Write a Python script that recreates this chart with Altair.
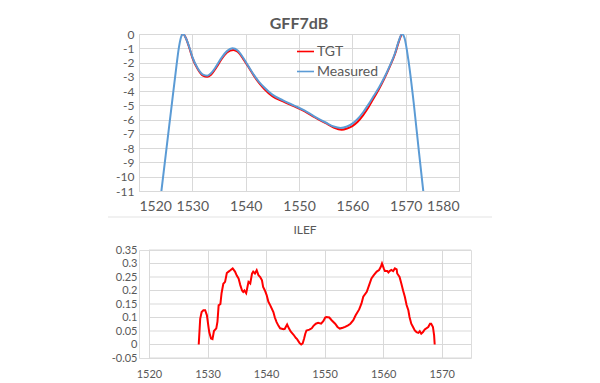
import altair as alt
import pandas as pd

# ---------------- data ----------------
wl_meas = [1524.2, 1525.0, 1526.0, 1527.0, 1527.5, 1528.0, 1528.3, 1528.8, 1529.5, 1530.0,
           1531.0, 1532.0, 1532.8, 1533.5, 1534.5, 1535.5, 1536.5, 1537.5, 1538.5, 1539.5,
           1540.5, 1541.5, 1542.5, 1543.5, 1545.0, 1547.0, 1549.0, 1551.0, 1553.0, 1555.0,
           1556.5, 1557.8, 1559.0, 1560.0, 1561.0, 1562.0, 1563.0, 1564.0, 1565.0, 1566.0,
           1567.0, 1568.0, 1568.7, 1569.3, 1569.8, 1570.5, 1571.5, 1572.5, 1573.3]
gff_meas = [-11.0, -8.5, -5.4, -2.3, -0.9, -0.1, 0.0, -0.3, -1.0, -1.6,
            -2.4, -2.85, -2.92, -2.75, -2.25, -1.65, -1.2, -1.0, -1.15, -1.65,
            -2.25, -2.85, -3.35, -3.75, -4.25, -4.65, -5.0, -5.35, -5.8, -6.2,
            -6.48, -6.58, -6.48, -6.28, -5.95, -5.5, -4.95, -4.35, -3.75, -3.05,
            -2.25, -1.35, -0.5, 0.0, -0.3, -1.8, -4.8, -8.3, -11.0]

wl_tgt = [1527.9, 1528.3, 1528.8, 1529.5, 1530.0, 1531.0, 1532.0, 1532.8, 1533.5, 1534.5,
          1535.5, 1536.5, 1537.7, 1538.5, 1539.5, 1540.5, 1541.5, 1542.5, 1543.5, 1545.0,
          1547.0, 1549.0, 1551.0, 1553.0, 1555.0, 1556.5, 1558.0, 1559.0, 1560.0, 1561.0,
          1562.0, 1563.0, 1564.0, 1565.0, 1566.0, 1567.0, 1568.0, 1568.7, 1569.2]
gff_tgt = [-0.05, 0.0, -0.3, -1.05, -1.65, -2.45, -2.92, -3.0, -2.85, -2.35,
           -1.75, -1.3, -1.12, -1.25, -1.72, -2.3, -2.9, -3.42, -3.85, -4.35,
           -4.72, -5.05, -5.4, -5.85, -6.25, -6.55, -6.7, -6.62, -6.45, -6.15,
           -5.7, -5.15, -4.5, -3.85, -3.12, -2.3, -1.4, -0.55, -0.05]

wl_ilef = [1528.5, 1528.75, 1529.0, 1529.3, 1529.6, 1529.9, 1530.2, 1530.3, 1530.6, 1530.85,
           1531.1, 1531.5, 1531.7, 1531.9, 1532.2, 1532.4, 1532.7, 1533.0, 1533.3, 1533.6,
           1533.9, 1534.3, 1534.7, 1535.0, 1535.3, 1535.6, 1535.9, 1536.1, 1536.3, 1536.6,
           1536.7, 1537.0, 1537.3, 1537.6, 1537.8, 1538.1, 1538.4, 1538.7, 1539.0, 1539.3,
           1539.5, 1539.8, 1540.1, 1540.4, 1540.7, 1541.25, 1541.5, 1541.8, 1542.1, 1542.4,
           1543.0, 1543.2, 1543.5, 1543.6, 1543.9, 1544.2, 1544.7, 1545.1, 1545.3, 1545.7,
           1546.0, 1546.25, 1546.5, 1546.7, 1546.9, 1547.4, 1547.8, 1548.1, 1548.5, 1548.9,
           1549.4, 1549.8, 1550.1, 1550.3, 1550.8, 1551.2, 1551.8, 1552.2, 1552.6, 1553.1,
           1553.5, 1554.0, 1554.4, 1554.9, 1555.3, 1555.9, 1556.3, 1556.6, 1557.2, 1557.6,
           1558.0, 1558.4, 1558.9, 1559.3, 1559.6, 1559.8, 1560.1, 1560.3, 1560.7, 1560.9,
           1561.1, 1561.4, 1561.7, 1562.0, 1562.3, 1562.4, 1562.8, 1563.1, 1563.4, 1563.7,
           1564.0, 1564.3, 1564.5, 1564.8, 1565.1, 1565.4, 1565.7, 1566.0, 1566.25, 1566.5,
           1566.8, 1567.1, 1567.7, 1568.0, 1568.2, 1568.5, 1568.7, 1568.8]
ilef = [0.0, 0.095, 0.12, 0.127, 0.127, 0.108, 0.06, 0.045, 0.022, 0.02,
        0.05, 0.06, 0.085, 0.145, 0.15, 0.19, 0.225, 0.232, 0.265, 0.27,
        0.275, 0.282, 0.27, 0.255, 0.245, 0.22, 0.2, 0.195, 0.2, 0.19,
        0.2, 0.232, 0.226, 0.263, 0.27, 0.263, 0.275, 0.257, 0.25, 0.238,
        0.213, 0.2, 0.183, 0.158, 0.146, 0.12, 0.1, 0.083, 0.07, 0.06,
        0.057, 0.058, 0.07, 0.074, 0.06, 0.048, 0.036, 0.024, 0.02, 0.006,
        0.0, 0.004, 0.022, 0.04, 0.052, 0.055, 0.06, 0.069, 0.077, 0.08,
        0.077, 0.087, 0.1, 0.102, 0.1, 0.09, 0.077, 0.065, 0.059, 0.062,
        0.065, 0.071, 0.077, 0.09, 0.108, 0.13, 0.152, 0.177, 0.195, 0.22,
        0.245, 0.257, 0.27, 0.276, 0.288, 0.3, 0.282, 0.272, 0.272, 0.267,
        0.272, 0.276, 0.272, 0.282, 0.278, 0.263, 0.25, 0.226, 0.2, 0.177,
        0.146, 0.127, 0.102, 0.077, 0.065, 0.052, 0.046, 0.043, 0.049, 0.04,
        0.046, 0.056, 0.065, 0.077, 0.077, 0.065, 0.034, 0.0]

series_names = ["TGT", "Measured"]
series_colors = ["#FF0000", "#5B9BD5"]
top_x_ticks = [1520, 1530, 1540, 1550, 1560, 1570, 1580]
top_y_ticks = [0, -1, -2, -3, -4, -5, -6, -7, -8, -9, -10, -11]
bot_x_ticks = [1520, 1530, 1540, 1550, 1560, 1570]
bot_y_ticks = [-0.05, 0, 0.05, 0.1, 0.15, 0.2, 0.25, 0.3, 0.35]
bot_x_span = [1520, 1575]

FONT = "Lato"
GRID = "#D9D9D9"
TXT = "#595959"
minus_fix = "replace(datum.label, '\u2212', '-')"

# ---------------- top chart ----------------
df_top = pd.concat([
    pd.DataFrame({"wl": wl_tgt, "v": gff_tgt, "series": "TGT"}),
    pd.DataFrame({"wl": wl_meas, "v": gff_meas, "series": "Measured"}),
])

color = alt.Color("series:N",
                  scale=alt.Scale(domain=series_names, range=series_colors),
                  legend=alt.Legend(title=None, orient="none", legendX=157, legendY=8,
                                    symbolType="stroke", symbolStrokeWidth=1.6, symbolSize=290,
                                    labelFontSize=14, labelColor=TXT, labelFont=FONT,
                                    rowPadding=3, labelOffset=2))

xt = alt.X("wl:Q", scale=alt.Scale(domain=[1520, 1580], nice=False),
           axis=alt.Axis(values=top_x_ticks, title=None, grid=True, gridColor=GRID,
                         domain=False, ticks=False, labelFontSize=14, labelColor=TXT,
                         labelFont=FONT, labelPadding=8, format="d"))
yt = alt.Y("v:Q", scale=alt.Scale(domain=[-11, 0], nice=False),
           axis=alt.Axis(values=top_y_ticks, title=None, grid=True, gridColor=GRID,
                         domain=False, ticks=False, labelFontSize=12, labelColor=TXT,
                         labelFont=FONT, labelPadding=5, labelOverlap=False,
                         labelExpr=minus_fix))

base_top = alt.Chart(df_top)
top_tgt = base_top.transform_filter("datum.series == 'TGT'").mark_line(
    strokeWidth=2, interpolate="monotone", clip=True).encode(x=xt, y=yt, color=color)
top_meas = base_top.transform_filter("datum.series == 'Measured'").mark_line(
    strokeWidth=2, interpolate="monotone", clip=True).encode(x=xt, y=yt, color=color)

# thin frame line under the upper figure (decoration)
separator = alt.Chart(pd.DataFrame({"d": [0]})).mark_rule(
    color="#E3E3E3", strokeWidth=1, clip=False).encode(
    x=alt.value(-31), x2=alt.value(353), y=alt.value(183))

top = alt.layer(top_tgt, top_meas, separator).properties(
    width=320, height=157,
    title=alt.TitleParams("GFF7dB", fontSize=16, fontWeight="bold", color=TXT, font=FONT,
                          offset=-4, anchor="middle"))

# ---------------- bottom chart ----------------
df_ilef = pd.DataFrame({"wl": wl_ilef, "v": ilef})
df_grid = pd.DataFrame({"v": bot_y_ticks, "wl": bot_x_span[0], "wl2": bot_x_span[1]})

bx_scale = alt.Scale(domain=[1518.3, 1575], nice=False)
by_scale = alt.Scale(domain=[-0.05, 0.35], nice=False)

xb = alt.X("wl:Q", scale=bx_scale,
           axis=alt.Axis(values=bot_x_ticks, title=None, grid=True, gridColor=GRID,
                         domain=False, ticks=False, labelFontSize=11, labelColor=TXT,
                         labelFont=FONT, labelPadding=10, format="d"))
yb = alt.Y("v:Q", scale=by_scale,
           axis=alt.Axis(values=bot_y_ticks, title=None, grid=False,
                         domain=False, ticks=False, labelFontSize=11, labelColor=TXT,
                         labelFont=FONT, labelPadding=2, labelOverlap=False,
                         labelExpr="replace(format(datum.value, '~g'), '\u2212', '-')"))

hgrid = alt.Chart(df_grid).mark_rule(color=GRID, strokeWidth=1).encode(
    y=yb, x=xb, x2="wl2:Q")
ilef_line = alt.Chart(df_ilef).mark_line(color="#FF0000", strokeWidth=2).encode(x=xb, y=yb)

bottom = alt.layer(hgrid, ilef_line).properties(
    width=332, height=108,
    title=alt.TitleParams("ILEF", fontSize=12, fontWeight="normal", color=TXT, font=FONT,
                          offset=7, anchor="middle"))

chart = alt.vconcat(top, bottom, spacing=5).properties(
    padding={"left": 99, "top": 7, "right": 5, "bottom": 5}
).configure_view(stroke=None).configure(background="white")

chart.save("out.html", embed_options={"renderer": "svg", "actions": False})
